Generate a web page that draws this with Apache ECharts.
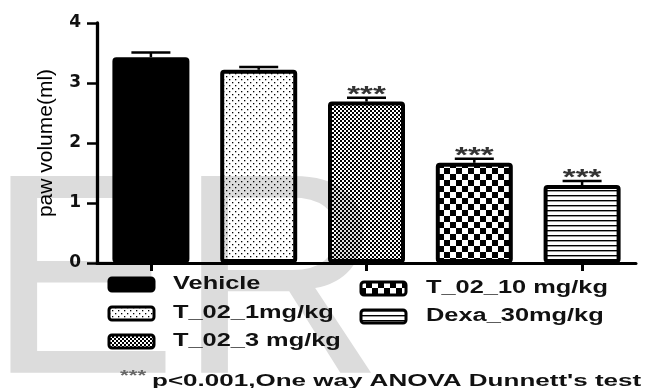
<!DOCTYPE html>
<html>
<head>
<meta charset="utf-8">
<script src="https://cdn.jsdelivr.net/npm/echarts@6/dist/echarts.min.js"></script>
<style>
html,body{margin:0;padding:0;background:#fff;}
#chart{width:647px;height:388px;}
</style>
</head>
<body>
<div id="chart"></div>
<script>
// ---- data ----
const categories = ['Vehicle', 'T_02_1mg/kg', 'T_02_3 mg/kg', 'T_02_10 mg/kg', 'Dexa_30mg/kg'];
const means = [3.43, 3.22, 2.69, 1.67, 1.30];
const sems = [0.08, 0.045, 0.065, 0.066, 0.067];
const stars = ['', '', '***', '***', '***'];
const yTicks = [0, 1, 2, 3, 4];
const yAxisName = 'paw volume(ml)';
const footnoteStars = '***';
const footnote = "p<0.001,One way ANOVA Dunnett's test";
const watermark = 'ER';

// ---- patterns ----
function makeCanvas(w, h, draw) {
  const c = document.createElement('canvas');
  c.width = w; c.height = h;
  const ctx = c.getContext('2d');
  draw(ctx, w, h);
  return c;
}
const patDots = makeCanvas(6, 6, (ctx) => {
  ctx.fillStyle = '#000';
  ctx.fillRect(1, 1, 1.3, 1.3);
  ctx.fillRect(4, 4, 1.3, 1.3);
});
const patFine = makeCanvas(4, 4, (ctx) => {
  ctx.fillStyle = '#000';
  ctx.fillRect(0, 0, 2, 2);
  ctx.fillRect(2, 2, 2, 2);
});
const patCoarse = makeCanvas(12, 12, (ctx) => {
  ctx.fillStyle = '#000';
  ctx.fillRect(0, 0, 6, 6);
  ctx.fillRect(6, 6, 6, 6);
});
const patLines = makeCanvas(4, 5, (ctx) => {
  ctx.fillStyle = '#000';
  ctx.fillRect(0, 0, 4, 1.4);
});
function pat(c) { return { image: c, repeat: 'repeat' }; }
const fills = ['#000', pat(patDots), pat(patFine), pat(patCoarse), pat(patLines)];

const FONT = 'Arial, "Liberation Sans", sans-serif';

// ---- legend layout ----
const legendSlots = [
  { sx: 109, tx: 173, y: 284.5 },
  { sx: 109, tx: 173, y: 313.5 },
  { sx: 109, tx: 173, y: 341.5 },
  { sx: 361, tx: 426, y: 288.5 },
  { sx: 361, tx: 426, y: 316.5 }
];
const graphics = [];
graphics.push({
  type: 'text', z: -10, silent: true, x: -13, y: 294,
  style: { text: watermark, font: 'normal 286px ' + FONT,
           fill: '#dcdcdc', textAlign: 'left', textVerticalAlign: 'middle', align: 'left', verticalAlign: 'middle' }
});
categories.forEach((name, i) => {
  const s = legendSlots[i];
  graphics.push({
    type: 'rect', z: 10,
    shape: { x: s.sx, y: s.y - 6.5, width: 45, height: 13, r: 3 },
    style: { fill: fills[i], stroke: '#000', lineWidth: 3 }
  });
  graphics.push({
    type: 'text', z: 10, x: s.tx, y: s.y, scaleX: 1.45,
    style: { text: name, font: 'bold 17.5px ' + FONT, fill: '#111',
             textAlign: 'left', textVerticalAlign: 'middle', align: 'left', verticalAlign: 'middle' }
  });
});
graphics.push({
  type: 'text', z: 10, x: 120, y: 376, scaleX: 1.6,
  style: { text: footnoteStars, font: 'bold 14px ' + FONT, fill: '#666',
           textAlign: 'left', textVerticalAlign: 'middle', align: 'left', verticalAlign: 'middle' }
});
graphics.push({
  type: 'text', z: 10, x: 152, y: 381, scaleX: 1.55,
  style: { text: footnote, font: 'bold 16.8px ' + FONT, fill: '#111',
           textAlign: 'left', textVerticalAlign: 'middle', align: 'left', verticalAlign: 'middle' }
});

const chart = echarts.init(document.getElementById('chart'), null, { renderer: 'canvas' });
chart.setOption({
  animation: false,
  backgroundColor: '#fff',
  textStyle: { fontFamily: FONT },
  grid: { left: 97, right: 11, top: 23, bottom: 125, containLabel: false },
  xAxis: {
    type: 'category',
    data: categories,
    axisLine: { lineStyle: { color: '#000', width: 3 } },
    axisTick: { show: true, alignWithLabel: true, length: 8, lineStyle: { color: '#000', width: 3 } },
    axisLabel: { show: false }
  },
  yAxis: {
    type: 'value',
    min: yTicks[0],
    max: yTicks[yTicks.length - 1],
    interval: 1,
    name: yAxisName,
    nameLocation: 'middle',
    nameGap: 40,
    nameRotate: 90,
    nameTextStyle: { fontSize: 21, fontFamily: FONT, color: '#000' },
    axisLine: { show: true, lineStyle: { color: '#000', width: 3.3 } },
    axisTick: { show: true, length: 10, lineStyle: { color: '#000', width: 2.5 } },
    axisLabel: { margin: 16, fontSize: 17, fontWeight: 'bold', fontFamily: 'DejaVu Sans', color: '#111',
                 formatter: (v) => String(v) },
    splitLine: { show: false }
  },
  series: [
    {
      type: 'bar',
      barWidth: 77,
      z: 2,
      data: means.map((v, i) => ({
        value: v,
        itemStyle: { color: fills[i], borderColor: '#000', borderWidth: 4, borderRadius: 2 }
      }))
    },
    {
      type: 'custom',
      z: 3,
      data: means.map((v, i) => [i, v, sems[i]]),
      renderItem: function (params, api) {
        const i = api.value(0);
        const m = api.value(1);
        const e = api.value(2);
        const base = api.coord([i, m]);
        const top = api.coord([i, m + e]);
        const half = 19.5;
        const children = [
          { type: 'line', shape: { x1: base[0], y1: base[1], x2: top[0], y2: top[1] },
            style: { stroke: '#000', lineWidth: 2.5 } },
          { type: 'line', shape: { x1: top[0] - half, y1: top[1], x2: top[0] + half, y2: top[1] },
            style: { stroke: '#000', lineWidth: 2.5 } }
        ];
        const st = stars[params.dataIndex];
        if (st) {
          children.push({
            type: 'text', x: top[0], y: top[1] - 3, scaleX: 1.5,
            style: { text: st, font: 'bold 22px ' + FONT, fill: '#333',
                     textAlign: 'center', textVerticalAlign: 'middle', align: 'center', verticalAlign: 'middle' }
          });
        }
        return { type: 'group', children: children };
      }
    }
  ],
  graphic: graphics
});
</script>
</body>
</html>
